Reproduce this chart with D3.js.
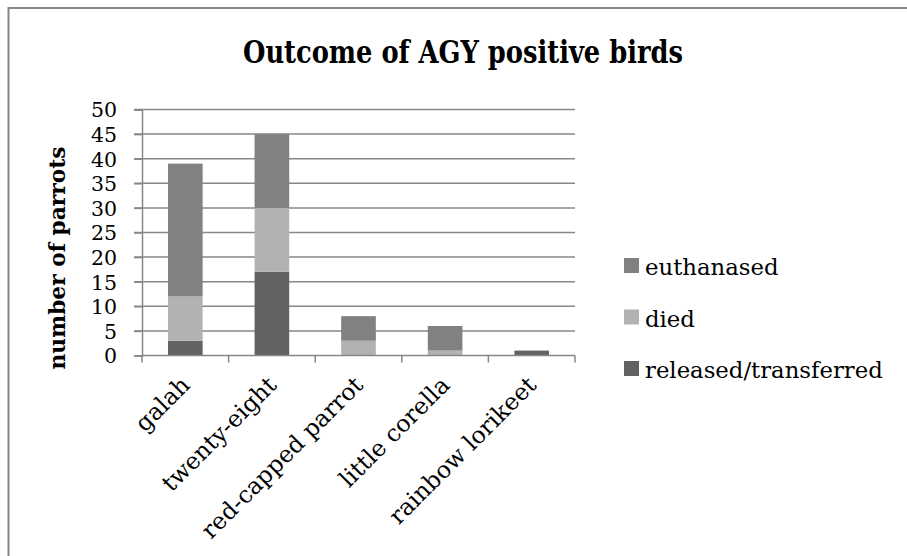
<!DOCTYPE html>
<html>
<head>
<meta charset="utf-8">
<script src="https://cdn.jsdelivr.net/npm/d3@7"></script>
<style>
  html, body { margin: 0; padding: 0; background: #fff; }
  svg { display: block; }
  text { font-family: "DejaVu Serif", "Liberation Serif", serif; fill: #000; }
</style>
</head>
<body>
<svg id="chart" width="907" height="556"></svg>
<script>
// ---- data ----
const categories = ["galah", "twenty-eight", "red-capped parrot", "little corella", "rainbow lorikeet"];
const seriesNames = ["released/transferred", "died", "euthanased"];
const released = [3, 17, 0, 0, 1];
const died = [9, 13, 3, 1, 0];
const euthanased = [27, 15, 5, 5, 0];
const yTicks = [0, 5, 10, 15, 20, 25, 30, 35, 40, 45, 50];
const titleText = "Outcome of AGY positive birds";
const yTitleText = "number of parrots";

const seriesValues = { "released/transferred": released, "died": died, "euthanased": euthanased };
const colors = { "released/transferred": "#626262", "died": "#b2b2b2", "euthanased": "#818181" };

const rows = categories.map((c, i) => {
  const r = { cat: c };
  seriesNames.forEach(s => r[s] = seriesValues[s][i]);
  return r;
});

// scale font-size of a text selection so that a reference node reaches a target width
function fitSize(sel, refNode, target, start) {
  const len = refNode.getComputedTextLength();
  const size = start * target / len;
  sel.attr("font-size", size);
  return size;
}

const svg = d3.select("#chart");
const plot = { left: 142, right: 575, top: 109.5, bottom: 355.5 };

// outer border (top + left)
svg.append("path")
  .attr("d", `M8.5,556 L8.5,8 L907,8`)
  .attr("fill", "none").attr("stroke", "#878787").attr("stroke-width", 2);

const x = d3.scaleBand().domain(categories).range([plot.left, plot.right]).paddingInner(0.6).paddingOuter(0.3);
const xOuter = d3.scaleBand().domain(categories).range([plot.left, plot.right]);
const y = d3.scaleLinear().domain([0, 50]).range([plot.bottom, plot.top]);

// gridlines
svg.append("g")
  .selectAll("line").data(yTicks.filter(t => t > 0)).join("line")
  .attr("x1", plot.left - 8).attr("x2", plot.right)
  .attr("y1", d => y(d)).attr("y2", d => y(d))
  .attr("stroke", "#878787").attr("stroke-width", 1.5);

// stacked bars
const stack = d3.stack().keys(seriesNames)(rows);
svg.append("g").selectAll("g").data(stack).join("g")
  .attr("fill", d => colors[d.key])
  .selectAll("rect").data(d => d).join("rect")
  .attr("x", d => x(d.data.cat))
  .attr("width", x.bandwidth())
  .attr("y", d => y(d[1]))
  .attr("height", d => y(d[0]) - y(d[1]));

// y axis
const yAxis = d3.axisLeft(y).tickValues(yTicks).tickSize(8).tickPadding(17).tickFormat(d3.format("d"));
const gy = svg.append("g").attr("transform", `translate(${plot.left},0)`).call(yAxis);
gy.select(".domain").attr("stroke", "#878787").attr("stroke-width", 1.5);
gy.selectAll(".tick line").attr("stroke", "#878787").attr("stroke-width", 1.5);
gy.selectAll(".tick text").attr("font-size", 20.5).attr("font-family", "DejaVu Serif").attr("fill", "#000").attr("dy", "0.36em");

// x axis
const gx = svg.append("g").attr("transform", `translate(0,${plot.bottom})`);
gx.append("line").attr("x1", plot.left).attr("x2", plot.right).attr("y1", 0).attr("y2", 0)
  .attr("stroke", "#878787").attr("stroke-width", 1.5);
const boundaries = categories.map(c => xOuter(c)).concat([plot.right]);
gx.selectAll("line.tk").data(boundaries).join("line").attr("class", "tk")
  .attr("x1", d => d).attr("x2", d => d).attr("y1", 0).attr("y2", 7)
  .attr("stroke", "#878787").attr("stroke-width", 1.5);
const xl = gx.selectAll("text").data(categories).join("text")
  .attr("transform", d => `translate(${xOuter(d) + xOuter.bandwidth() / 2 + 6},${31}) rotate(-45)`)
  .attr("text-anchor", "end")
  .attr("font-size", 21)
  .text(d => d);
fitSize(xl, xl.nodes()[2], 217, 21);

// title
svg.append("text").attr("x", 463).attr("y", 63).attr("text-anchor", "middle")
  .attr("font-family", "Liberation Serif")
  .attr("font-size", 31).attr("font-weight", "bold")
  .attr("textLength", 440).attr("lengthAdjust", "spacingAndGlyphs")
  .text(titleText);

// y title
const yt = svg.append("text").attr("transform", `translate(65,258) rotate(-90)`).attr("text-anchor", "middle")
  .attr("font-size", 21).attr("font-weight", "bold").text(yTitleText);
fitSize(yt, yt.node(), 223, 21);

// legend
const legendOrder = ["euthanased", "died", "released/transferred"];
const lg = svg.append("g").selectAll("g").data(legendOrder).join("g")
  .attr("transform", (d, i) => `translate(624,${258 + i * 51.5})`);
lg.append("rect").attr("width", 15).attr("height", 15).attr("fill", d => colors[d]);
const lt = lg.append("text").attr("x", 21).attr("y", 17).attr("font-size", 21).text(d => d);
fitSize(lt, lt.nodes()[2], 238, 21);
</script>
</body>
</html>
